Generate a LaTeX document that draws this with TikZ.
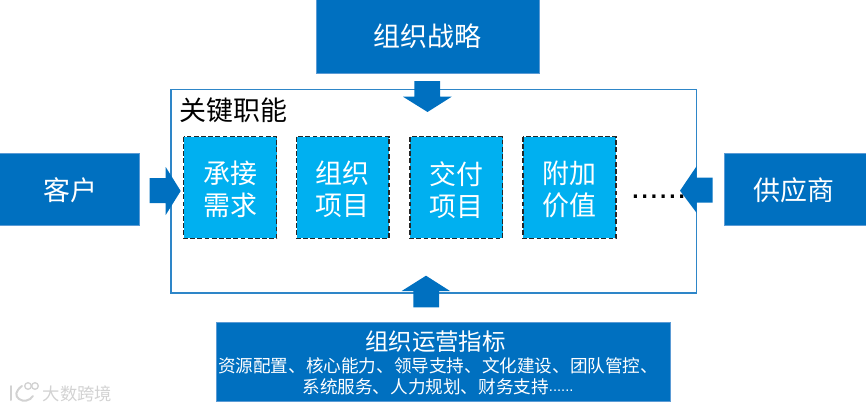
\documentclass[tikz,border=0pt]{standalone}
\usepackage{fontspec}
\setmainfont{Noto Sans CJK SC}
\newfontfamily\latinfont{Liberation Sans}
\definecolor{deepblue}{HTML}{0070C0}
\definecolor{skyblue}{HTML}{00B0F0}
\definecolor{edgeblue}{HTML}{5B9BD5}
\definecolor{frameblue}{HTML}{2E86C8}
\definecolor{markgrey}{HTML}{D2D2D2}
\tikzset{
  outerbox/.style={fill=deepblue,draw=edgeblue,line width=0.5pt},
  innerbox/.style={fill=skyblue,draw=black!85,line width=1.1pt,dash pattern=on 3.6pt off 1.8pt},
  framebox/.style={draw=frameblue,line width=1.2pt},
  blockarrow/.style={fill=deepblue,draw=none},
  bigtext/.style={midway,text=white,inner sep=0pt,align=center,font=\fontsize{20.2pt}{24pt}\selectfont},
  marktext/.style={text=markgrey,inner sep=0pt,font=\fontsize{13pt}{13pt}\selectfont},
}
\begin{document}
\begin{tikzpicture}[x=0.75pt,y=-0.75pt]
\useasboundingbox (0,0) rectangle (866,410);
% frame
\draw[framebox] (171,89.5) rectangle (696.5,292.7);
\node[anchor=west,inner sep=0pt,font=\fontsize{20.2pt}{24pt}\selectfont] (title) at (179.5,110) {关键职能};
% outer boxes
\draw[outerbox] (316,-2) rectangle (539,73) node[bigtext,yshift=-0.6pt] (strategy) {组织战略};
\draw[outerbox] (-2,153) rectangle (139,225) node[bigtext,xshift=1.2pt,yshift=-0.6pt] (customer) {客户};
\draw[outerbox] (724.5,153) rectangle (868,225) node[bigtext,xshift=-2pt,yshift=-1.2pt] (supplier) {供应商};
\draw[outerbox] (216,322) rectangle (670,401.7) node[midway,inner sep=0pt] (metrics) {};
\node[text=white,inner sep=0pt,font=\fontsize{17.6pt}{20pt}\selectfont] (metricshead) at (435.5,342) {组织运营指标};
\node[text=white,inner sep=0pt,font=\fontsize{13.2pt}{15.8pt}\selectfont,align=center] (metricsbody) at (438,376.5) {资源配置、核心能力、领导支持、文化建设、团队管控、\\系统服务、人力规划、财务支持\raisebox{1.5pt}{\latinfont\fontsize{11pt}{12pt}\selectfont ......}};
% inner boxes
\draw[innerbox] (183.7,136.7) rectangle (276.7,238.3) node[bigtext,yshift=-1.6pt] (b1) {承接\\需求};
\draw[innerbox] (296.7,136.7) rectangle (389,238.3) node[bigtext,yshift=-1.6pt] (b2) {组织\\项目};
\draw[innerbox] (410,136.7) rectangle (502.5,238.3) node[bigtext,yshift=-1.6pt] (b3) {交付\\项目};
\draw[innerbox] (523,136.7) rectangle (616,238.3) node[bigtext,yshift=-1.6pt] (b4) {附加\\价值};
\node[inner sep=0pt,anchor=base west,font=\latinfont\fontsize{25pt}{25pt}\selectfont] (more) at (630.5,198.5) {......};
% block arrows
\fill[blockarrow] (414.3,81) -- (440,81) -- (440,96.7) -- (451.7,96.7) -- (427.5,112) -- (403,96.7) -- (414.3,96.7) -- cycle;
\fill[blockarrow] (413.3,307.3) -- (439,307.3) -- (439,291) -- (450,291) -- (426,275.7) -- (401.7,291) -- (413.3,291) -- cycle;
\fill[blockarrow] (149.5,178) -- (165.7,178) -- (165.7,167) -- (180.7,191) -- (165.7,215) -- (165.7,203) -- (149.5,203) -- cycle;
\fill[blockarrow] (712.7,177.7) -- (696.7,177.7) -- (696.7,166) -- (680,190.7) -- (696.7,213) -- (696.7,202.7) -- (712.7,202.7) -- cycle;
% watermark
\node[marktext,anchor=west] (mark) at (42.5,393.5) {大数跨境};
\draw[markgrey,line width=1.5pt,line cap=round] (11,386) -- (11,400);
\draw[markgrey,line width=1.5pt,line cap=round] (22,386) .. controls (15,391) and (15,396) .. (19,399) .. controls (23,402) and (30,401) .. (33,396);
\draw[markgrey,line width=1pt] (28,386) circle[radius=3.3];
\draw[markgrey,line width=1pt] (35,386) circle[radius=3.3];
\end{tikzpicture}
\end{document}
